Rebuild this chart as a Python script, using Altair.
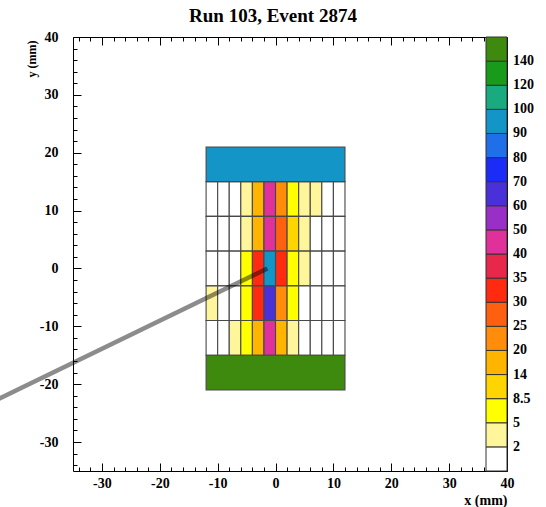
import altair as alt
import numpy as np
import pandas as pd

# ---- data -------------------------------------------------------------
COL_EDGES = [-12, -10, -8, -6, -4, -2, 0, 2, 4, 6, 8, 10, 12]
ROW_EDGES = [15, 9, 3, -3, -9, -15]
ENERGY = [
    [0, 0, 0, 3, 17, 45, 22, 7, 3, 3, 0, 0],
    [0, 0, 0, 3, 17, 45, 27, 10, 3, 0, 0, 0],
    [0, 0, 0, 7, 32, 95, 32, 7, 3, 0, 0, 0],
    [3, 0, 0, 7, 32, 65, 22, 7, 0, 0, 0, 0],
    [0, 0, 3, 7, 17, 45, 17, 3, 0, 0, 0, 0],
]
BAR_X = [-12, 12]
TOP_BAR_Y = [15, 21]
BOTTOM_BAR_Y = [-21, -15]
TOP_BAR_E = 95
BOTTOM_BAR_E = 150

TRACK_X = [-1.4, -48.0]
TRACK_Y = [0.0, -22.6]

THRESHOLDS = [2, 5, 8.5, 14, 20, 25, 30, 35, 40, 50, 60, 70, 80, 90, 100, 120, 140]
PALETTE = ["#ffffff", "#fff59a", "#ffff00", "#ffd500", "#ffb400", "#ff8c0a",
           "#ff6010", "#ff2a10", "#e8284a", "#e0309a", "#9a2fc8", "#4a30d8",
           "#1a2cf5", "#1f6fe8", "#1395c8", "#1aaa80", "#1a9a1a", "#3e8a0e"]

AXIS_TICKS = list(range(-34, 41, 2))
DOMAIN = [-35, 40]

# ---- tables -----------------------------------------------------------
rows = []
for r, erow in enumerate(ENERGY):
    for c, e in enumerate(erow):
        rows.append({"x0": COL_EDGES[c], "x1": COL_EDGES[c + 1],
                     "y0": ROW_EDGES[r + 1], "y1": ROW_EDGES[r], "e": e})
rows.append({"x0": BAR_X[0], "x1": BAR_X[1], "y0": TOP_BAR_Y[0], "y1": TOP_BAR_Y[1], "e": TOP_BAR_E})
rows.append({"x0": BAR_X[0], "x1": BAR_X[1], "y0": BOTTOM_BAR_Y[0], "y1": BOTTOM_BAR_Y[1], "e": BOTTOM_BAR_E})
cells = pd.DataFrame(rows)
# palette bin of each cell (0 = below first threshold)
cells["bin"] = np.searchsorted(np.array(THRESHOLDS, dtype=float), cells["e"].to_numpy(float), side="right")
track = pd.DataFrame({"x": TRACK_X, "y": TRACK_Y, "k": [0, 1]})

BIN_EDGES = list(range(1, len(THRESHOLDS) + 1))
label_list = "[" + ",".join("'%s'" % (str(t)) for t in THRESHOLDS) + "]"
legend_label_expr = "isFinite(datum.value) ? %s[datum.value - 1] : ''" % label_list

FONT = "Liberation Serif"
tick_expr = {"expr": "datum.value % 10 === 0 ? -8 : -4"}
label_expr = "datum.value % 10 === 0 ? '' + datum.value : ''"

xs = alt.Scale(domain=DOMAIN, nice=False, zero=False)
ys = alt.Scale(domain=DOMAIN, nice=False, zero=False)

common = dict(values=AXIS_TICKS, tickSize=tick_expr, tickColor="black", tickWidth=1,
              domain=False, grid=False, labelFont=FONT, labelFontSize=14,
              labelFontWeight="bold", labelColor="black", labelExpr=label_expr,
              labelFlush=False, labelOverlap=False)

x_bottom = alt.Axis(orient="bottom", labelPadding=13, title="x (mm)", titleX=434, titleY=29,
                    titleAlign="right", titleBaseline="middle", titleFont=FONT,
                    titleFontSize=14, titleFontWeight="bold", titleColor="black", **common)
y_left = alt.Axis(orient="left", labelPadding=23, labelAlign="right", labelBaseline="middle",
                  title="y (mm)", titleAngle=270, titleX=-42, titleY=3, titleAlign="right",
                  titleBaseline="middle", titleFont=FONT, titleFontSize=12,
                  titleFontWeight="bold", titleColor="black", **common)
x_top = alt.Axis(orient="top", values=AXIS_TICKS, tickSize=tick_expr, tickColor="black",
                 tickWidth=1, domain=False, grid=False, labels=False, title=None)

legend = alt.Legend(type="gradient", direction="vertical", orient="none", legendX=413, legendY=0,
                    gradientLength=434, gradientThickness=21, title=None, padding=0,
                    labelFont=FONT, labelFontSize=14, labelFontWeight="bold", labelColor="black",
                    labelOffset=6, labelExpr=legend_label_expr, labelOverlap=False,
                    gradientStrokeColor="#333", gradientStrokeWidth=1)

rect = alt.Chart(cells).mark_rect(stroke="#484848", strokeWidth=1.1).encode(
    x=alt.X("x0:Q", scale=xs, axis=x_bottom),
    x2="x1:Q",
    y=alt.Y("y0:Q", scale=ys, axis=y_left),
    y2="y1:Q",
    color=alt.Color("bin:Q", scale=alt.Scale(type="threshold", domain=BIN_EDGES, range=PALETTE),
                    legend=legend),
)

line = alt.Chart(track).mark_line(clip=False, color="#000", opacity=0.45, strokeWidth=4.5,
                                  strokeCap="butt").encode(
    x=alt.X("x:Q", scale=xs, axis=x_top),
    y=alt.Y("y:Q", scale=ys, axis=None),
    order="k:Q",
)

chart = alt.layer(rect, line).resolve_axis(x="independent", y="independent").properties(
    width=434, height=434,
    padding={"left": 73, "top": 37, "right": 39, "bottom": 36},
    autosize=alt.AutoSizeParams(type="none"),
    title=alt.TitleParams("Run 103, Event 2874", font=FONT, fontSize=19, fontWeight="bold",
                          color="black", anchor="middle", dx=-17, dy=24, offset=13,
                          baseline="alphabetic"),
    background="white",
).configure_view(stroke="black", strokeWidth=1)

chart.save("out.html", embed_options={"renderer": "svg", "actions": False})
